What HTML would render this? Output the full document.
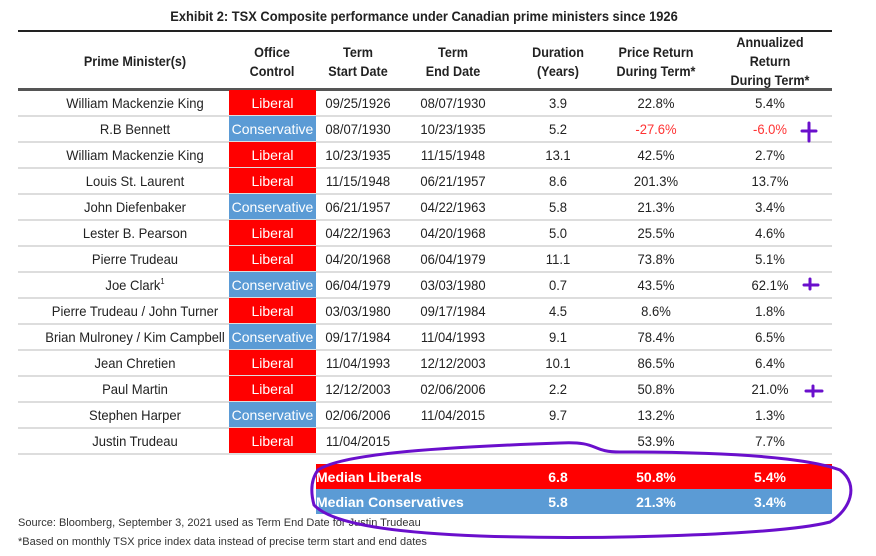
<!DOCTYPE html>
<html><head><meta charset="utf-8"><style>
body{margin:0;width:876px;height:556px;background:#fff;position:relative;overflow:hidden;font-family:"Liberation Sans",Arial,sans-serif;color:#222}
.a{position:absolute;white-space:nowrap}
.t{font-weight:bold;font-size:14px;left:0;width:848px;text-align:center;top:8px;transform:scaleX(.92)}
.h{font-size:14px;text-align:center;line-height:19px;transform:scaleX(.9)}
.hb{font-weight:bold}
.c{font-size:14px;text-align:center;transform:scaleX(.93);line-height:26px}
.line{position:absolute;left:18px;width:814px;background:#ddd;height:2px}
.cell{position:absolute;left:229px;width:87px;height:25px;color:#fff;font-size:14px;text-align:center;line-height:27px}
.lib{background:#f00}.con{background:#5b9bd5}
.med{position:absolute;left:316px;width:516px;height:25px;color:#fff;font-weight:bold;font-size:14px;line-height:26px}
.med span{position:absolute;transform:translateX(-50%)}
.s{font-size:11px;color:#333;left:18px}
sup{font-size:8px;line-height:0;vertical-align:6px}
</style></head><body>
<div class="a t">Exhibit 2: TSX Composite performance under Canadian prime ministers since 1926</div>
<div class="line" style="top:30px;height:2px;background:#222"></div>
<div class="line" style="top:88px;height:3px;background:#555"></div>
<div class="a h hb" style="left:60px;width:150px;top:52px">Prime Minister(s)</div>
<div class="a h hb" style="left:232px;width:80px;top:43px">Office<br>Control</div>
<div class="a h hb" style="left:318px;width:80px;top:43px">Term<br>Start Date</div>
<div class="a h hb" style="left:413px;width:80px;top:43px">Term<br>End Date</div>
<div class="a h hb" style="left:518px;width:80px;top:43px">Duration<br>(Years)</div>
<div class="a h hb" style="left:606px;width:100px;top:43px">Price Return<br>During Term*</div>
<div class="a h hb" style="left:720px;width:100px;top:33px">Annualized<br>Return<br>During Term*</div>
<div id="rows"></div>
<div class="med lib" style="top:464px"><span style="left:0;transform:none">Median Liberals</span><span style="left:242px">6.8</span><span style="left:340px">50.8%</span><span style="left:454px">5.4%</span></div>
<div class="med con" style="top:489px"><span style="left:0;transform:none">Median Conservatives</span><span style="left:242px">5.8</span><span style="left:340px">21.3%</span><span style="left:454px">3.4%</span></div>
<div class="a s" style="top:517px">Source: Bloomberg, September 3, 2021 used as Term End Date for Justin Trudeau</div>
<div class="a s" style="top:536px">*Based on monthly TSX price index data instead of precise term start and end dates</div>
<svg class="a" style="left:0;top:0" width="876" height="556"><g fill="none" stroke="#6a0fcc" stroke-width="3" stroke-linecap="round">
<path d="M318,470 C340,455 420,448 560,443 C600,441 590,452 620,452 C700,452 800,455 840,470 C860,485 850,510 830,522 C780,535 600,540 480,536 C380,532 330,522 314,505 C310,490 312,478 318,470"/>
<path d="M802,131 H816 M809,123 V141"/>
<path d="M804,285 H818 M810,279 V289"/>
<path d="M806,391 H822 M813,386 V396"/>
</g></svg>
<script>
var d=[["William Mackenzie King",1,"09/25/1926","08/07/1930","3.9","22.8%","5.4%"],
["R.B Bennett",0,"08/07/1930","10/23/1935","5.2","-27.6%","-6.0%"],
["William Mackenzie King",1,"10/23/1935","11/15/1948","13.1","42.5%","2.7%"],
["Louis St. Laurent",1,"11/15/1948","06/21/1957","8.6","201.3%","13.7%"],
["John Diefenbaker",0,"06/21/1957","04/22/1963","5.8","21.3%","3.4%"],
["Lester B. Pearson",1,"04/22/1963","04/20/1968","5.0","25.5%","4.6%"],
["Pierre Trudeau",1,"04/20/1968","06/04/1979","11.1","73.8%","5.1%"],
["Joe Clark<sup>1</sup>",0,"06/04/1979","03/03/1980","0.7","43.5%","62.1%"],
["Pierre Trudeau / John Turner",1,"03/03/1980","09/17/1984","4.5","8.6%","1.8%"],
["Brian Mulroney / Kim Campbell",0,"09/17/1984","11/04/1993","9.1","78.4%","6.5%"],
["Jean Chretien",1,"11/04/1993","12/12/2003","10.1","86.5%","6.4%"],
["Paul Martin",1,"12/12/2003","02/06/2006","2.2","50.8%","21.0%"],
["Stephen Harper",0,"02/06/2006","11/04/2015","9.7","13.2%","1.3%"],
["Justin Trudeau",1,"11/04/2015","","","53.9%","7.7%"]];
var h="",cx=[[135,200],[358,90],[453,90],[558,70],[656,90],[770,90]];
d.forEach(function(r,i){var y=90+i*26;
h+='<div class="cell '+(r[1]?'lib':'con')+'" style="top:'+y+'px">'+(r[1]?'Liberal':'Conservative')+'</div>';
h+='<div class="line" style="top:'+(y+25)+'px"></div>';
var v=[r[0],r[2],r[3],r[4],r[5],r[6]];
v.forEach(function(t,j){var red=(i==1&&j>=4)?';color:#f33':'';
h+='<div class="a c" style="top:'+(y)+'px;left:'+(cx[j][0]-cx[j][1]/2)+'px;width:'+cx[j][1]+'px'+red+'">'+t+'</div>';});});
document.getElementById("rows").innerHTML=h;
</script>
</body></html>
